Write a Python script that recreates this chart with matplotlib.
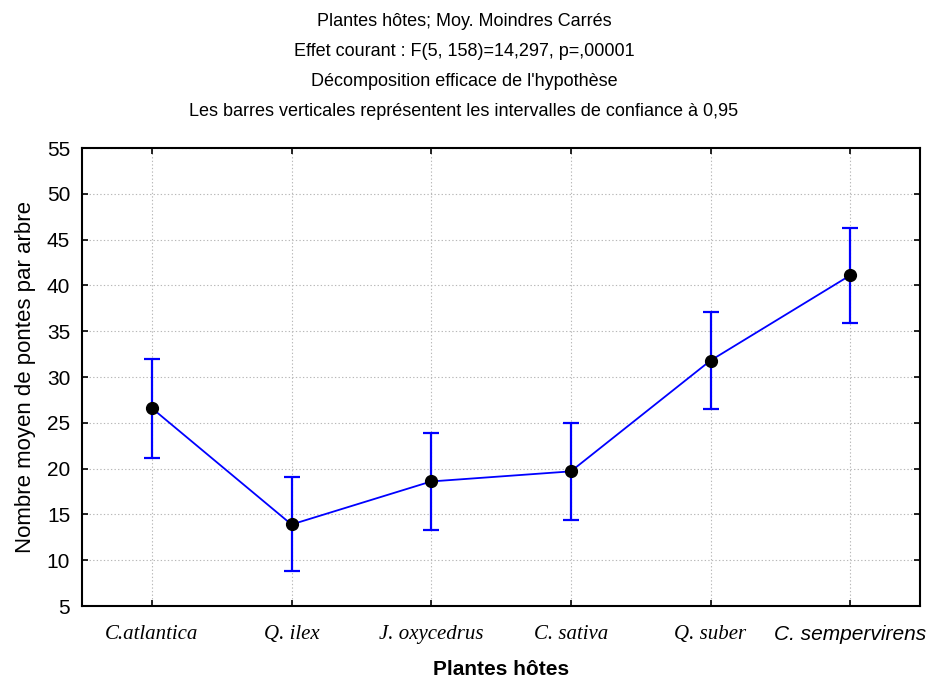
import matplotlib
matplotlib.use("Agg")
import matplotlib.pyplot as plt

# moyennes par plante hôte et bornes de l'intervalle de confiance à 0,95
plantes = ["C.atlantica", "Q. ilex", "J. oxycedrus", "C. sativa", "Q. suber", "C. sempervirens"]
moyennes = [26.6, 13.9, 18.6, 19.7, 31.8, 41.1]
ic_bas = [21.2, 8.8, 13.3, 14.4, 26.5, 35.9]
ic_haut = [32.0, 19.1, 23.9, 25.0, 37.1, 46.3]
yticks = [5, 10, 15, 20, 25, 30, 35, 40, 45, 50, 55]

titres = ["Plantes hôtes; Moy. Moindres Carrés",
          "Effet courant : F(5, 158)=14,297, p=,00001",
          "Décomposition efficace de l'hypothèse",
          "Les barres verticales représentent les intervalles de confiance à 0,95"]

plt.rcParams['font.family'] = ['Liberation Sans', 'DejaVu Sans']

fig = plt.figure(figsize=(9.28, 6.83), dpi=100)
ax = fig.add_axes([0.0884, 0.1127, 0.903, 0.6706])

x = list(range(len(plantes)))
err = [[m - b for m, b in zip(moyennes, ic_bas)],
       [h - m for m, h in zip(moyennes, ic_haut)]]
ax.errorbar(x, moyennes, yerr=err, color="#0000ff", lw=1.3, elinewidth=1.6,
            capsize=5.5, capthick=1.6, zorder=3)
ax.plot(x, moyennes, "o", color="black", markersize=8.5, zorder=4)

ax.set_xlim(-0.5, len(plantes) - 0.5)
ax.set_ylim(5, 55)
ax.set_yticks(yticks)
ax.set_xticks(x)
ax.set_xticklabels(plantes)
for i, lab in enumerate(ax.get_xticklabels()):
    if i < len(plantes) - 1:
        lab.set_family("Liberation Serif")
    else:
        lab.set_family("Liberation Sans")
    lab.set_fontsize(15)
    lab.set_style("italic")

ax.tick_params(axis="both", direction="in", length=4, width=1.2,
               top=True, right=True)
ax.tick_params(axis="y", labelsize=15, pad=8.5)
ax.tick_params(axis="x", pad=14)
ax.grid(True, color="#b8b8b8", linestyle=(0, (1.2, 2)), linewidth=0.8)
for s in ax.spines.values():
    s.set_linewidth(1.5)

ax.set_ylabel("Nombre moyen de pontes par arbre", fontsize=16, labelpad=8)
ax.set_xlabel("Plantes hôtes", fontsize=15, fontweight="bold", labelpad=11)

# titre sur quatre lignes
for k, t in enumerate(titres):
    fig.text(0.5, 1 - (22 + 30 * k) / 683, t, ha="center", va="center", fontsize=13)

fig.savefig("out.png", dpi=100)
